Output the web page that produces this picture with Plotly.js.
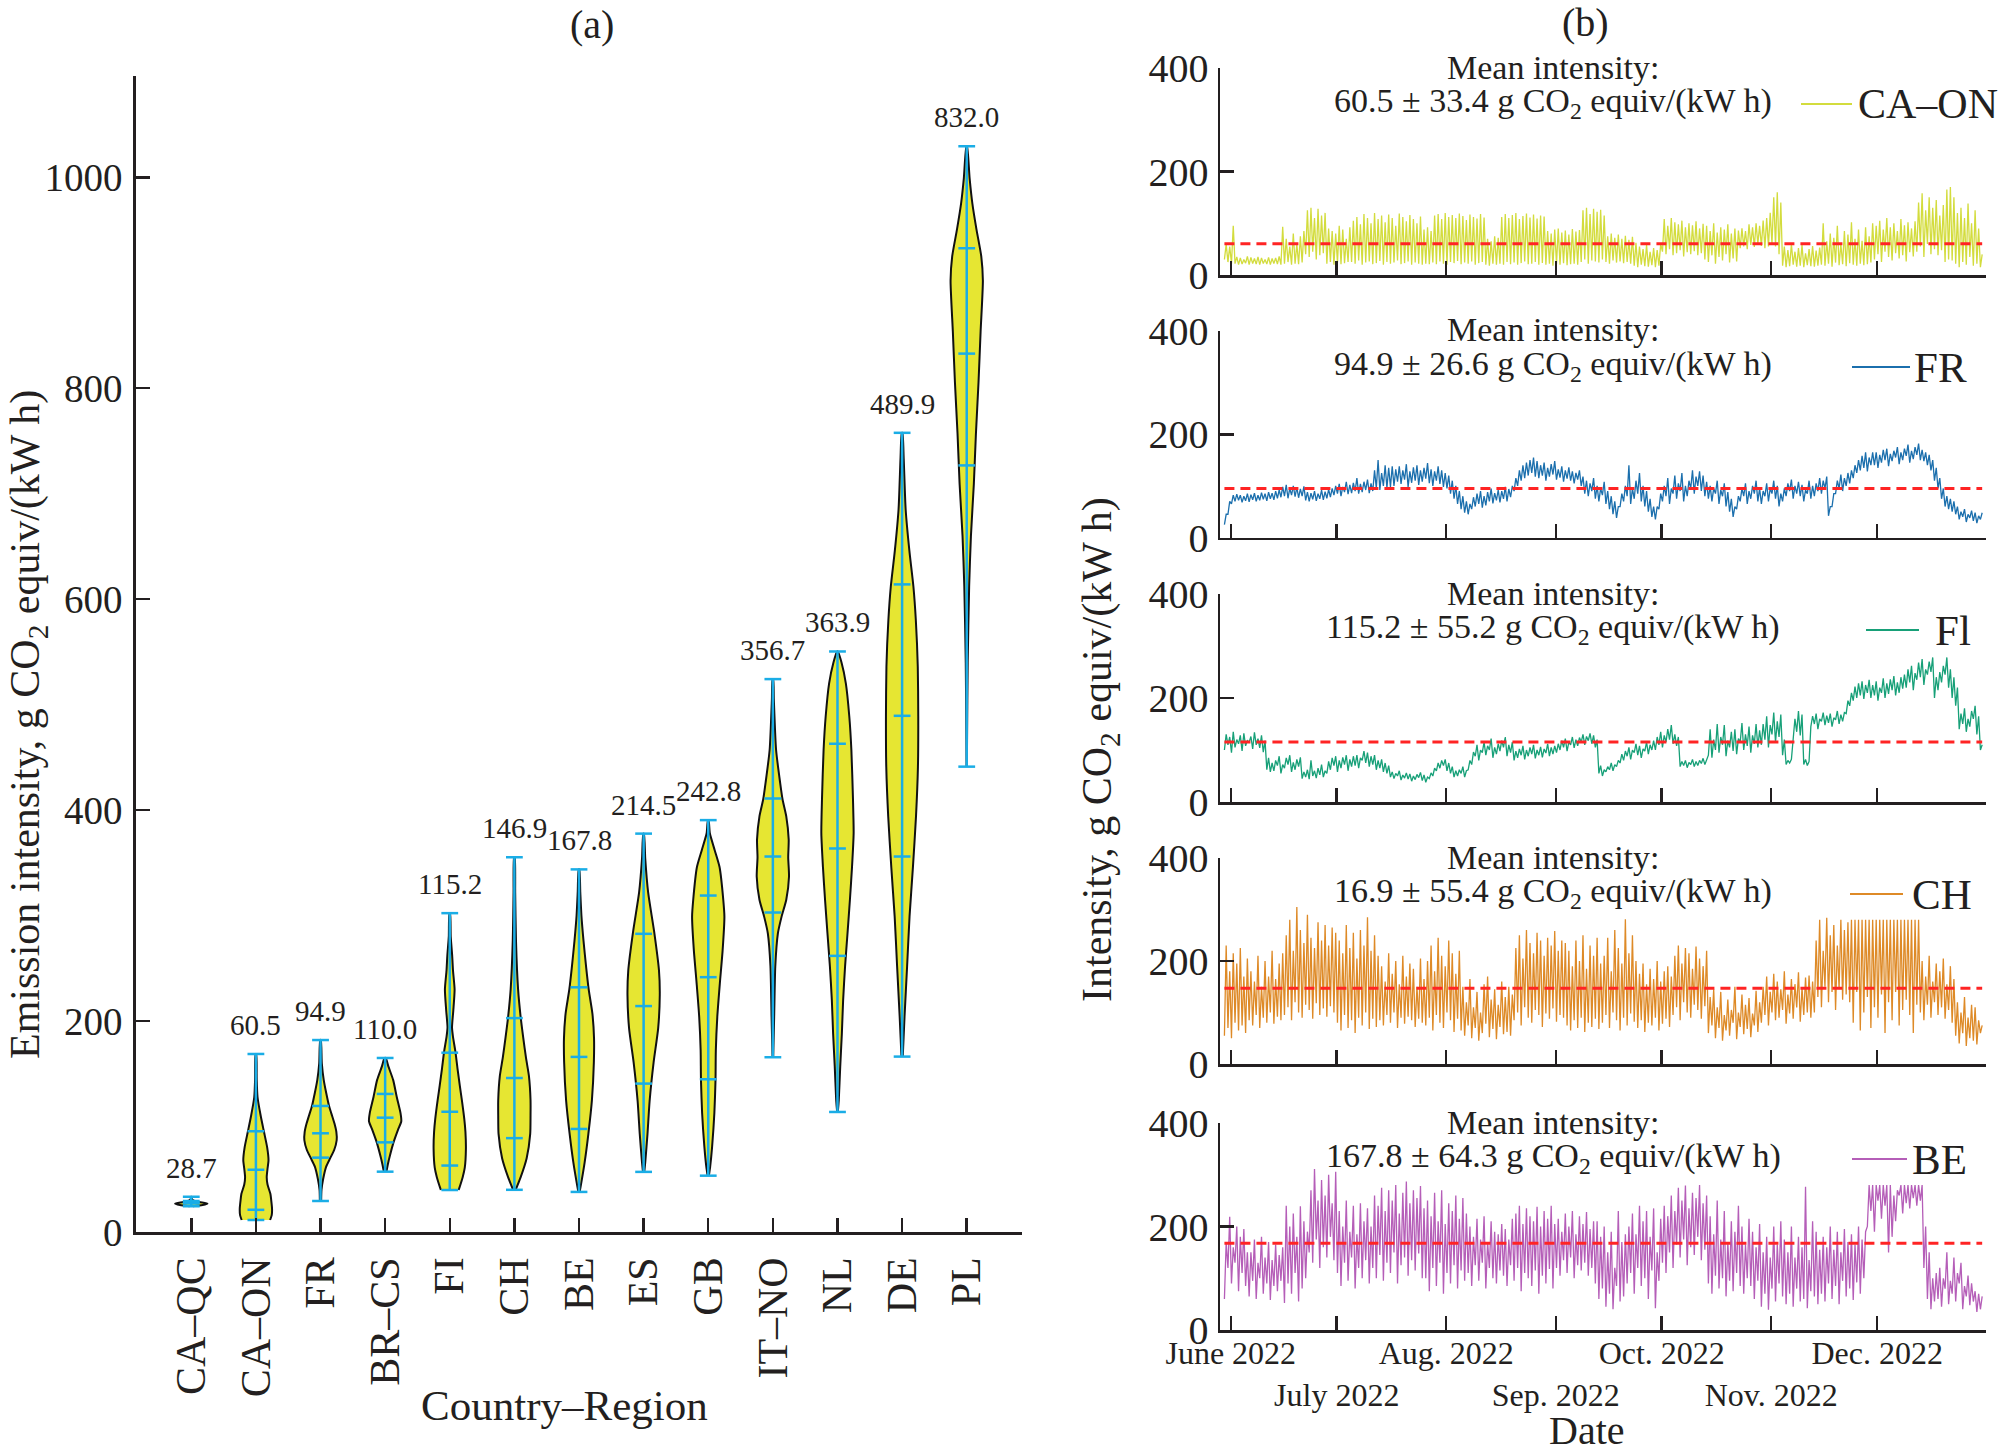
<!DOCTYPE html>
<html>
<head>
<meta charset="utf-8">
<script src="https://cdn.plot.ly/plotly-3.0.1.min.js"></script>
<style>html,body{margin:0;padding:0;background:#fff;}#chart{width:2003px;height:1455px;}</style>
</head>
<body>
<div id="chart"></div>
<script>
// ---------------- Panel (a): violin data ----------------
const categories = ['CA\u2013QC','CA\u2013ON','FR','BR\u2013CS','FI','CH','BE','ES','GB','IT\u2013NO','NL','DE','PL'];
const meanLabels = ['28.7','60.5','94.9','110.0','115.2','146.9','167.8','214.5','242.8','356.7','363.9','489.9','832.0'];
const minVals = [24.5, 11.4, 29.4, 57.2, 39.8, 40, 38, 57, 53.4, 165.7, 113.8, 166.3, 441.2];
const q1Vals  = [27, 21, 70.5, 85, 63, 89, 97.7, 140.7, 144.8, 302.9, 261.8, 356, 726.8];
const medVals = [28.3, 59, 93.6, 108.4, 114, 146, 166, 214.2, 241.6, 356, 363.6, 489.4, 832.8];
const q3Vals  = [29.5, 95.5, 119.5, 130.9, 170, 202.8, 232, 282.7, 319, 411, 462.9, 614, 932.8];
const maxVals = [33.5, 168.8, 182, 165, 302.3, 355.3, 343.8, 377.7, 390.5, 524.2, 550.4, 757.7, 1029.5];

// density profiles (value levels, relative width 0..1)
const caqcLevels = [24.5, 25.5, 27, 28.5, 30, 31.5, 33.5];
const caqcWidths = [0.1, 0.7, 1.0, 0.5, 0.12, 0.03, 0.01];
const caonLevels = [11.4, 16, 22, 30, 36, 45, 52, 60, 68, 80, 95, 110, 128, 145, 168.8];
const caonWidths = [0.88, 0.98, 1.0, 0.95, 0.9, 0.72, 0.67, 0.72, 0.78, 0.7, 0.5, 0.3, 0.1, 0.05, 0.02];
const frLevels = [29.4, 40, 50, 62, 70, 78, 87, 95, 103, 112, 120, 132, 144, 160, 182];
const frWidths = [0.04, 0.06, 0.16, 0.35, 0.6, 0.85, 1.0, 0.98, 0.86, 0.68, 0.52, 0.35, 0.2, 0.08, 0.02];
const brcsLevels = [57.2, 65, 72, 84, 97, 105, 113, 128, 144, 157, 165];
const brcsWidths = [0.08, 0.18, 0.29, 0.5, 0.8, 1.0, 0.95, 0.72, 0.5, 0.2, 0.04];
const fiLevels = [39.8, 43, 52, 61, 79, 95, 107, 125, 139, 155, 171, 185, 194, 210, 230, 248, 262, 280, 302.3];
const fiWidths = [0.55, 0.62, 0.8, 0.93, 1.0, 0.97, 0.9, 0.75, 0.62, 0.48, 0.35, 0.2, 0.14, 0.22, 0.3, 0.2, 0.15, 0.06, 0.02];
const chLevels = [40, 52, 70, 93, 110, 125, 148, 165, 184, 205, 230, 276, 322, 355.3];
const chWidths = [0.08, 0.39, 0.76, 0.98, 1.0, 1.0, 0.9, 0.72, 0.55, 0.38, 0.23, 0.1, 0.05, 0.02];
const beLevels = [38, 43, 66, 93, 125, 161, 184, 207, 230, 250, 276, 300, 322, 343.8];
const beWidths = [0.04, 0.1, 0.35, 0.58, 0.8, 0.92, 0.93, 0.83, 0.6, 0.45, 0.28, 0.15, 0.08, 0.02];
const esLevels = [57, 66, 93, 124, 161, 193, 225, 248, 285, 322, 354, 377.7];
const esWidths = [0.04, 0.1, 0.24, 0.37, 0.62, 0.9, 1.0, 0.95, 0.65, 0.28, 0.1, 0.02];
const gbLevels = [53.4, 62, 81, 113, 144, 172, 204, 236, 267, 299, 315, 346, 362, 378, 390.5];
const gbWidths = [0.04, 0.12, 0.24, 0.38, 0.45, 0.47, 0.56, 0.72, 0.89, 1.0, 0.93, 0.7, 0.4, 0.1, 0.02];
const itnoLevels = [165.7, 204, 252, 283, 299, 315, 337, 355, 372, 394, 410, 426, 457, 505, 524.2];
const itnoWidths = [0.02, 0.08, 0.15, 0.31, 0.54, 0.83, 1.0, 0.95, 0.98, 0.83, 0.6, 0.45, 0.2, 0.06, 0.02];
const nlLevels = [113.8, 125, 157, 188, 220, 252, 283, 315, 346, 378, 410, 457, 489, 520, 540, 550.4];
const nlWidths = [0.02, 0.08, 0.17, 0.27, 0.35, 0.47, 0.62, 0.77, 0.9, 1.0, 0.96, 0.86, 0.73, 0.52, 0.25, 0.02];
const deLevels = [166.3, 204, 252, 299, 346, 394, 441, 489, 536, 580, 612, 646, 685, 733, 757.7];
const deWidths = [0.04, 0.15, 0.31, 0.46, 0.67, 0.86, 0.98, 1.0, 0.97, 0.85, 0.7, 0.45, 0.22, 0.1, 0.02];
const plLevels = [441.2, 466.7, 539.6, 612, 660, 709, 757, 805.6, 854, 902, 925, 950.8, 975, 999, 1029.5];
const plWidths = [0.01, 0.02, 0.06, 0.15, 0.26, 0.44, 0.57, 0.73, 0.86, 1.0, 0.9, 0.6, 0.35, 0.18, 0.02];

// ---------------- Panel (b): time series (daily low / high) ----------------
const seriesStart = '2022-05-30';
const caonLow = [30,25,22, 22,20,21,23,20,22,21,20,22,21,20,22,21, 20,22,25,20,22,21,24, 40,35,45,30,38,42, 22,25,20,24,21,23,25,
 25,22,28,20,24,26,21,23,27,20,25,22,24,28,21,23,26,20,24,22, 20,22,21, 24,21,26,22,20,25,23,27,21,24,22,26,20,23,25, 20,18,22,20,
 22,20,25,21,24,20,23,26,21,22,25,20,23, 20,22,18,21,20,23,19,21,22,20, 25,30,22,28,26,24,30, 25,22,28,24,26,23,25,22,
 18,15,20,17,16,19,15,18, 45,40,50,38,42,48,36,44,40,46,38,42, 30,25,38,22,35,28,40,24,32,26, 52,55,50,58,54,60,56,52,55, 60,55,40,
 18,15,17,20,16,18,15,19,17,16,18, 20,18,22,16,24,19,21,17,23,20,18,22,19,21,24, 30,40,25,45,35,28,42,32,38,26,44,36,
 45,55,35,60,40,50,38,48, 25,30,28,22, 15,25,20,35,18,22,15];
const caonHigh = [60,55,95, 35,33,30,36,34,32,35,33,30,34,32,33,36, 93,70,55,80,60,75,85, 125,130,110,128,115,120, 90,85,80,95,88,70,92,
 105,112,98,118,110,100,120,108,115,102,117,110,95,119,112,104,116,108,100,113, 88,92,85, 115,118,108,120,112,116,110,119,114,106,117,112,109,118,111, 70,65,75,72,
 112,118,110,116,120,108,114,119,111,117,109,115,113, 85,80,88,90,82,86,78,89,84,87, 125,130,118,128,122,126,115, 75,80,72,78,70,76,68,74,
 62,55,50,58,45,52,48,60, 108,95,110,102,98,105,92,100,96,104,90,99, 95,85,100,82,92,88,98,80,90,86, 90,85,98,92,100,95,105,110,120, 150,160,140,
 55,48,60,45,52,58,42,50,56,47,53, 100,65,80,72,95,60,85,78,102,70,88,66,92,75,100, 95,105,88,110,92,100,85,108,96,102,90,104,
 140,158,125,150,130,145,115,135, 165,170,150,120, 130,110,138,100,125,90,40];
const frLow = [25,45,65, 70,72,68,71,69,73,70,72,74,71,75,73,76, 78,80,76,82,79,77,80, 72,70,74,71,75,73,76,78,
 82,85,80,88,84,86,90,85,88,92,86, 90,95,92,100,96,98, 100,108,104,112,98,106,110,102,108,114,105,100,110,104,98,95,
 85,75,65,55,48,45, 55,60,65,58,62,70,66,72,68,75,70,78, 90,100,110,115,120,125,118, 115,120,110,118,122,112,116,108,114,110,105,112,100,
 85,80,90,75,70,82,65,55,45,38, 60,70,80,65,75,85,70,60,50,40, 35,55,70,80,65,85,75,90,70,80,95,85,100,90,80,
 75,70,85,65,80,60,50,40,55,70,80,65,75,85,70, 65,80,70,85,75,60,70,80,90,75,85,80,70,85,75, 80,90,85,95,42,60,85,95,90,100,
 105,115,125,130,135,128,140, 140,135,145,150,138,148,155,142,150,158,145,152,160,150,148, 140,130,110,95,75, 60,55,50,45, 35,40,30,38,32,28,35];
const frHigh = [45,70,82, 84,82,80,85,83,86,82,87,85,88,86,90,92, 98,102,95,100,97,94,99, 88,86,90,85,92,89,93,95,
 100,104,98,108,102,106,115,104,108,112,105, 130,150,125,140,135,138, 132,138,130,142,128,136,140,130,135,144,132,128,138,130,125,120,
 110,100,90,80,70,65, 78,85,90,80,88,95,86,92,90,98,94,100, 115,130,140,145,150,155,148, 140,145,135,142,148,132,138,130,136,128,125,130,118,
 110,105,115,100,95,108,90,80,70,60, 85,100,140,95,110,125,100,90,75,60, 60,85,100,115,95,120,105,125,100,110,130,118,128,120,108,
 100,95,110,92,105,88,75,60,80,95,105,90,100,110,95, 90,105,95,110,100,85,95,105,112,100,108,102,92,110,100, 105,115,110,118,60,85,110,122,115,125,
 130,140,150,158,165,155,165, 165,160,170,172,162,168,175,165,172,180,168,175,182,170,165, 160,150,135,115,95, 80,75,70,60, 50,55,45,52,48,42,48];
const fiLow = [100,110,95,105,112,98,108,115,102,110,104,96, 62,58, 60,70,55,65,72,58,62,68, 45,48,44,50,46,52,48, 55,62,70,58,65,72,60,68,
 70,65,80,75,68,72,62,65,58,55, 48,45,50,42,46,44,40,43,47,41,38,45, 50,60,65,70,60,55,48,50,55,48,
 62,72,88,80,95,90,100,85,92,98,105,88,95, 80,85,90,82,88,92,84,90,86,94,88,92, 95,100,105,98,110,104,108,115,110,118,112,105,
 55,50,58,62,60,68, 75,80,88,82,95,90,85,98,92,100, 100,110,105,115,120,112,108, 68,70,66,72,68,70,74,72,
 90,85,100,95,110,88,105,98,92,115,100,108,95,112,105, 110,120,105,130,115,125,90,72,75,120,135,128, 72,70,
 145,150,140,155,148,152,145,158,150,155, 170,185,195,200,205,198,210, 200,205,195,210,200,208,215,205,210,218,
 220,230,215,235,240,225,245,250,200,215, 230,245,220,200,185, 140,150,135,145,160,130,100];
const fiHigh = [130,125,135,120,128,132,118,126,134,122,128,118, 85,75, 80,88,72,85,90,76,82,86, 58,62,80,60,65,72,60, 78,85,88,80,86,90,82,88,
 90,85,98,95,88,90,80,82,75,70, 58,55,60,52,56,54,50,53,57,52,48,56, 65,75,80,82,75,68,60,62,68,60,
 80,96,110,100,115,108,122,105,112,118,125,110,115, 98,102,108,100,105,110,100,106,102,112,105,108, 112,118,122,115,125,120,124,130,126,132,128,120,
 70,62,68,75,72,80, 92,98,105,100,112,108,102,115,110,118, 125,135,128,140,148,130,125, 78,80,76,82,78,80,84,82,
 140,120,150,125,148,118,135,140,122,152,130,145,128,150,138, 150,165,148,172,155,168,120,80,82,160,175,168, 82,78,
 165,170,160,172,166,170,162,175,168,172, 195,210,222,228,232,225,235, 225,232,220,238,228,236,242,230,240,245,
 255,262,248,268,275,255,270,278,240,250, 262,278,255,240,220, 170,180,160,175,185,165,110];
const chLow = [55,70,50,80,65,75,60, 85,75,95,70,90,80,100,78,92,85, 95,110,85,120,100,90,115,105,88,118,95,108,92,112,100,
 80,65,95,70,85,60,90,75,100,68,88,72, 85,75,95,80,100,70,90,78,92,85,72,88,80, 75,90,65,95,80,70,100,85,62,88,
 65,55,75,50,70,45,60,78,52,68,48,72,58,62,55, 85,100,75,110,90,80,105,95,72,98,88,108,82,95,90, 75,65,85,70,90,62,80,72,88,68,
 80,95,70,100,85,65,90,75,98,82, 70,85,62,80,75,90,65,78,88,72, 95,110,85,120,100,90,115,105,88,112,
 60,75,50,70,45,65,55,80,48,72,58,68,52,75,62, 80,95,75,100,85,90,105,78,98,88,110,82,95,100,90, 100,130,110,150,120,140,105,145,125,135,
 120,80,140,65,100,130,70,110,90,135,60,120,85,140,75,105,125,95,60,115, 100,85,115,90,120,95,110,88,105,80, 55,40,60,35,50,45,38,60];
const chHigh = [230,180,215,195,225,170,205, 180,160,210,150,200,170,220,165,195,215, 250,280,220,305,260,235,290,245,225,275,240,270,230,265,255,
 240,215,270,225,255,205,260,230,285,220,250,210, 190,160,215,175,200,155,210,170,195,185,150,205,165, 200,230,180,245,210,190,240,215,175,220,
 150,120,165,110,140,100,155,170,125,145,115,160,130,150,135, 225,250,205,260,235,215,255,240,210,245,230,258,220,240,235, 220,190,240,200,250,185,230,210,245,195,
 210,245,180,260,225,195,281,215,250,200, 175,195,155,185,165,200,160,180,190,170, 210,230,195,225,215,185,228,205,190,220,
 130,145,110,140,95,125,105,150,100,135,115,128,98,142,120, 150,170,140,175,160,145,180,135,165,155,178,148,168,172,160, 240,280,220,284,250,270,230,280,260,275,
 280,280,280,280,280,280,280,280,280,280,280,280,280,280,280,280,280,280,280,280, 200,170,210,160,195,180,205,155,190,165, 120,100,130,90,115,110,85,75];
const beLow = [60,120,90,130,75,110,85, 65,95,60,100,70,90,58,85,75,95, 52,90,70,110,55,80,100, 150,130,175,120,160,140,180,135,
 110,85,130,95,140,80,120,100,135,90, 120,100,145,95,130,110,150,90,125,140,105,135,115,148,100, 100,75,120,85,130,70,110,90,125,80,115,95,
 110,85,125,95,130,80,120,100,90,115,105,85,125, 95,120,75,110,100,85,115,70,105,90,118,80, 120,105,135,110,140,100,125,115,130,105,120,
 90,60,80,45,70,40,85,55,65, 90,110,70,120,85,100,60,115,42,95, 130,110,150,120,165,140,175,125,160,145,180,135,155,
 90,70,105,80,100,65,95,75,110,85,70,100, 85,60,95,45,70,39,80,55,90,65, 50,70,45,80,55,60,42,75,65,50,
 70,55,90,60,85,50,95,65,80,58,92,70,100, 200,230,190,250,215,240,150,180,210,260,225,245,235,255,240,250, 120,60,40,55,
 60,45,80,50,70,55,90,40,65,48,55,35,40];
const beHigh = [170,219,160,200,180,195,150, 150,175,130,180,140,170,135,165,145,160, 240,200,225,180,239,210,190, 270,311,250,290,260,300,245,306,
 230,200,250,190,240,185,245,210,235,200, 260,240,275,230,270,250,280,225,265,287,245,270,255,278,235, 250,220,265,210,270,205,245,230,260,215,255,225,
 200,180,215,175,220,170,210,190,185,205,195,175,215, 225,240,205,235,220,210,238,200,230,215,240,205, 215,190,225,200,230,185,220,205,228,195,210,
 210,180,200,150,190,120,230,170,185, 200,225,185,240,210,230,180,235,150,215, 240,220,260,230,275,250,279,235,265,255,280,245,260,
 220,185,250,175,230,170,210,190,240,200,165,215, 190,160,205,150,180,140,200,165,210,175, 150,200,140,180,160,277,135,210,190,155,
 180,160,200,155,190,150,195,170,185,165,200,175,190, 280,280,280,280,280,280,280,260,270,280,280,280,280,280,280,280, 200,150,100,110,
 120,100,150,95,140,110,130,85,105,90,75,70,65];

const seriesNames = ['CA\u2013ON','FR','Fl','CH','BE'];
const seriesColors = ['#d3dc3d','#1b6fad','#17a078','#de8a27','#b55eb8'];
const seriesMeans = [60.5, 94.9, 115.2, 146.9, 167.8];
const meanTexts = [
  '60.5 \u00b1 33.4 g CO<sub>2</sub> equiv/(kW h)',
  '94.9 \u00b1 26.6 g CO<sub>2</sub> equiv/(kW h)',
  '115.2 \u00b1 55.2 g CO<sub>2</sub> equiv/(kW h)',
  '16.9 \u00b1 55.4 g CO<sub>2</sub> equiv/(kW h)',
  '167.8 \u00b1 64.3 g CO<sub>2</sub> equiv/(kW h)'
];
const monthTicks = ['2022-06-01','2022-07-01','2022-08-01','2022-09-01','2022-10-01','2022-11-01','2022-12-01'];
const monthLabels = ['June 2022','<br>July 2022','Aug. 2022','<br>Sep. 2022','Oct. 2022','<br>Nov. 2022','Dec. 2022'];

// ---------------- build ----------------
const W = 2003, H = 1455;
const px = x => x / W;
const py = y => 1 - y / H;
const SERIF = 'Liberation Serif, Times New Roman, serif';
const INK = '#231f20';

const profileLevels = [caqcLevels, caonLevels, frLevels, brcsLevels, fiLevels, chLevels, beLevels, esLevels, gbLevels, itnoLevels, nlLevels, deLevels, plLevels];
const profileWidths = [caqcWidths, caonWidths, frWidths, brcsWidths, fiWidths, chWidths, beWidths, esWidths, gbWidths, itnoWidths, nlWidths, deWidths, plWidths];

const traces = [];
const halfMax = 0.25, capHalf = 0.13;
categories.forEach((c, k) => {
  const lv = profileLevels[k], wd = profileWidths[k];
  const xs = [], ys = [];
  for (let j = 0; j < lv.length; j++) { xs.push(k + halfMax * wd[j]); ys.push(lv[j]); }
  for (let j = lv.length - 1; j >= 0; j--) { xs.push(k - halfMax * wd[j]); ys.push(lv[j]); }
  traces.push({type:'scatter', mode:'lines', x:xs, y:ys, fill:'toself', fillcolor:'#e6e632',
    line:{color:'#111', width:2, shape:'spline', smoothing:0.6}, xaxis:'x', yaxis:'y', hoverinfo:'skip', showlegend:false});
});
// blue extrema lines and quartile ticks
const bx = [], by = [];
categories.forEach((c, k) => {
  bx.push(k, k, null); by.push(minVals[k], maxVals[k], null);
  [minVals[k], q1Vals[k], medVals[k], q3Vals[k], maxVals[k]].forEach(v => { bx.push(k - capHalf, k + capHalf, null); by.push(v, v, null); });
});
traces.push({type:'scatter', mode:'lines', x:bx, y:by, line:{color:'#1aade6', width:2.5}, xaxis:'x', yaxis:'y', hoverinfo:'skip', showlegend:false});

function stamp(i, hour) {
  const p = seriesStart.split('-').map(Number);
  const d = new Date(Date.UTC(p[0], p[1] - 1, p[2] + i, hour, 0, 0));
  return d.toISOString().slice(0, 19).replace('T', ' ');
}
const lows = [caonLow, frLow, fiLow, chLow, beLow];
const highs = [caonHigh, frHigh, fiHigh, chHigh, beHigh];
lows.forEach((lo, s) => {
  const hi = highs[s];
  const x = [], y = [];
  for (let i = 0; i < lo.length; i++) { x.push(stamp(i, 5)); y.push(lo[i]); x.push(stamp(i, 17)); y.push(hi[i]); }
  const ax = 'x' + (s + 2), ay = 'y' + (s + 2);
  traces.push({type:'scatter', mode:'lines', x:x, y:y, line:{color:seriesColors[s], width:1.3}, xaxis:ax, yaxis:ay, hoverinfo:'skip', showlegend:false});
  traces.push({type:'scatter', mode:'lines', x:[x[0], x[x.length - 1]], y:[seriesMeans[s], seriesMeans[s]],
    line:{color:'#ff2424', width:3, dash:'10px,6px'}, xaxis:ax, yaxis:ay, hoverinfo:'skip', showlegend:false});
});

const axisBase = {showline:true, linecolor:INK, linewidth:2.5, ticks:'inside', ticklen:14, tickwidth:2.5, tickcolor:INK,
  showgrid:false, zeroline:false, mirror:false};

const layout = {
  width: W, height: H, margin:{l:0, r:0, t:0, b:0}, paper_bgcolor:'#fff', plot_bgcolor:'rgba(0,0,0,0)',
  showlegend:false, font:{family:SERIF, color:INK},
  xaxis: Object.assign({}, axisBase, {domain:[px(135.7), px(1022.3)], range:[-0.86, 12.86], anchor:'y',
    tickvals: categories.map((c, k) => k), ticktext: categories, tickangle:-90, tickfont:{size:42, family:SERIF, color:INK}, ticklabelstandoff:6}),
  yaxis: Object.assign({}, axisBase, {domain:[py(1232), py(76)], range:[0, 1096], anchor:'x',
    tickvals:[0,200,400,600,800,1000], tickfont:{size:39, family:SERIF, color:INK}, ticklabelstandoff:3}),
  annotations: [],
  shapes: []
};
const panelTops = [68, 331, 594, 858, 1123];
const panelBots = [275, 537.5, 802, 1064, 1330];
for (let s = 0; s < 5; s++) {
  const n = s + 2;
  layout['xaxis' + n] = Object.assign({}, axisBase, {domain:[px(1220), px(1986)], type:'date',
    range:['2022-05-28 23:00', '2022-12-31 19:00'], anchor:'y' + n, tickvals: monthTicks, ticktext: monthLabels,
    showticklabels: s === 4, tickfont:{size:32, family:SERIF, color:INK}, tickangle:0, ticklabelstandoff:-7});
  layout['yaxis' + n] = Object.assign({}, axisBase, {domain:[py(panelBots[s]), py(panelTops[s])], range:[0, 400],
    anchor:'x' + n, tickvals:[0,200,400], tickfont:{size:40, family:SERIF, color:INK}, ticklabelstandoff:1});
}

const ann = layout.annotations;
// violin mean labels
categories.forEach((c, k) => {
  ann.push({xref:'x', yref:'y', x:k, y:maxVals[k], yshift:29, text:meanLabels[k], showarrow:false,
    font:{size:29, family:SERIF, color:INK}, xanchor:'center', yanchor:'middle'});
});
// panel titles and axis titles
ann.push({xref:'paper', yref:'paper', x:px(591.5), y:py(24), text:'(a)', showarrow:false, font:{size:40, family:SERIF, color:INK}, xanchor:'center', yanchor:'middle'});
ann.push({xref:'paper', yref:'paper', x:px(1585), y:py(23), text:'(b)', showarrow:false, font:{size:40, family:SERIF, color:INK}, xanchor:'center', yanchor:'middle'});
ann.push({xref:'paper', yref:'paper', x:px(28), y:py(725), text:'Emission intensity, g CO<sub>2</sub> equiv/(kW h)', textangle:-90, showarrow:false, font:{size:42, family:SERIF, color:INK}, xanchor:'center', yanchor:'middle'});
ann.push({xref:'paper', yref:'paper', x:px(564), y:py(1405), text:'Country\u2013Region', showarrow:false, font:{size:43, family:SERIF, color:INK}, xanchor:'center', yanchor:'middle'});
ann.push({xref:'paper', yref:'paper', x:px(1100), y:py(750), text:'Intensity, g CO<sub>2</sub> equiv/(kW h)', textangle:-90, showarrow:false, font:{size:42, family:SERIF, color:INK}, xanchor:'center', yanchor:'middle'});
ann.push({xref:'paper', yref:'paper', x:px(1587), y:py(1430), text:'Date', showarrow:false, font:{size:40, family:SERIF, color:INK}, xanchor:'center', yanchor:'middle'});

// mean intensity texts and legends
const legLine = [[1801,1852],[1852,1910],[1866,1919],[1850,1903],[1852,1907]];
const legText = [1856, 1912, 1933, 1910, 1910];
const legSize = [42, 43, 43, 43, 43];
for (let s = 0; s < 5; s++) {
  const top = panelTops[s];
  ann.push({xref:'paper', yref:'paper', x:px(1553), y:py(top - 1), text:'Mean intensity:', showarrow:false, font:{size:34, family:SERIF, color:INK}, xanchor:'center', yanchor:'middle'});
  ann.push({xref:'paper', yref:'paper', x:px(1553), y:py(top + 35), text:meanTexts[s], showarrow:false, font:{size:34, family:SERIF, color:INK}, xanchor:'center', yanchor:'middle'});
  ann.push({xref:'paper', yref:'paper', x:px(legText[s]), y:py(top + 36), text:seriesNames[s], showarrow:false, font:{size:legSize[s], family:SERIF, color:INK}, xanchor:'left', yanchor:'middle'});
  layout.shapes.push({type:'line', xref:'paper', yref:'paper', x0:px(legLine[s][0]), x1:px(legLine[s][1]), y0:py(top + 36), y1:py(top + 36), line:{color:seriesColors[s], width:2}});
}

Plotly.newPlot('chart', traces, layout, {displayModeBar:false, staticPlot:true});
</script>
</body>
</html>
